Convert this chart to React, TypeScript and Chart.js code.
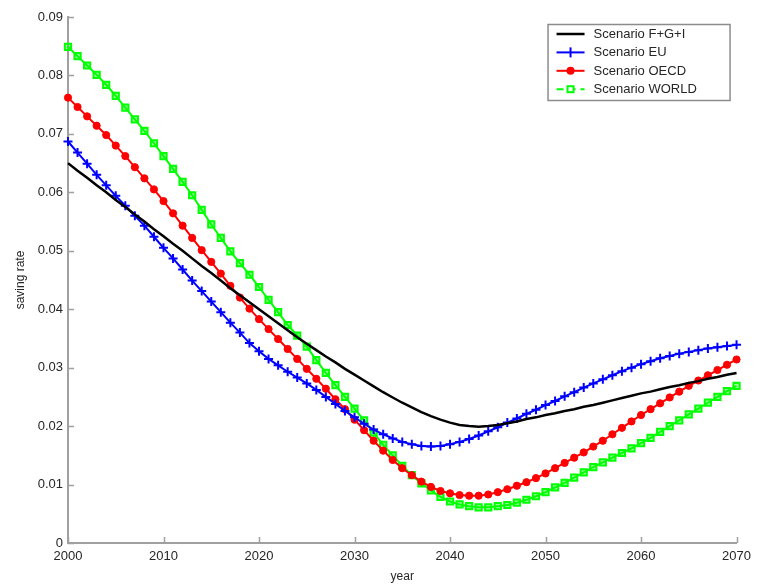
import React, { useEffect, useRef } from "react";
import { Chart, registerables } from "chart.js";

Chart.register(...registerables);

const YEARS = [
  2000, 2001, 2002, 2003, 2004, 2005, 2006, 2007, 2008, 2009,
  2010, 2011, 2012, 2013, 2014, 2015, 2016, 2017, 2018, 2019,
  2020, 2021, 2022, 2023, 2024, 2025, 2026, 2027, 2028, 2029,
  2030, 2031, 2032, 2033, 2034, 2035, 2036, 2037, 2038, 2039,
  2040, 2041, 2042, 2043, 2044, 2045, 2046, 2047, 2048, 2049,
  2050, 2051, 2052, 2053, 2054, 2055, 2056, 2057, 2058, 2059,
  2060, 2061, 2062, 2063, 2064, 2065, 2066, 2067, 2068, 2069,
  2070,
];

const FGI = [
  0.0650, 0.0637, 0.0625, 0.0612, 0.0600, 0.0587, 0.0575, 0.0562, 0.0550, 0.0537,
  0.0525, 0.0512, 0.0500, 0.0487, 0.0474, 0.0462, 0.0449, 0.0436, 0.0424, 0.0412,
  0.0400, 0.0388, 0.0376, 0.0364, 0.0352, 0.0341, 0.0330, 0.0319, 0.0309, 0.0298,
  0.0288, 0.0278, 0.0268, 0.0258, 0.0249, 0.0240, 0.0232, 0.0224, 0.0217, 0.0211,
  0.0206, 0.0202, 0.0200, 0.0199, 0.0200, 0.0202, 0.0205, 0.0208, 0.0212, 0.0215,
  0.0219, 0.0222, 0.0226, 0.0229, 0.0233, 0.0236, 0.0240, 0.0244, 0.0248, 0.0252,
  0.0256, 0.0259, 0.0263, 0.0267, 0.0270, 0.0274, 0.0277, 0.0281, 0.0284, 0.0288,
  0.0291,
];

const EU = [
  0.0687, 0.0668, 0.0649, 0.0630, 0.0612, 0.0594, 0.0577, 0.0560, 0.0543, 0.0524,
  0.0505, 0.0487, 0.0468, 0.0449, 0.0431, 0.0413, 0.0395, 0.0377, 0.0360, 0.0342,
  0.0328, 0.0315, 0.0304, 0.0293, 0.0283, 0.0273, 0.0262, 0.0250, 0.0238, 0.0226,
  0.0215, 0.0204, 0.0194, 0.0186, 0.0179, 0.0173, 0.0169, 0.0166, 0.0165, 0.0166,
  0.0169, 0.0173, 0.0178, 0.0184, 0.0191, 0.0198, 0.0206, 0.0213, 0.0221, 0.0228,
  0.0236, 0.0243, 0.0251, 0.0258, 0.0266, 0.0273, 0.0280, 0.0287, 0.0294, 0.0300,
  0.0306, 0.0311, 0.0316, 0.0320, 0.0324, 0.0327, 0.0330, 0.0333, 0.0335, 0.0337,
  0.0339,
];

const OECD = [
  0.0762, 0.0746, 0.0730, 0.0714, 0.0698, 0.0680, 0.0662, 0.0643, 0.0624, 0.0605,
  0.0585, 0.0564, 0.0543, 0.0522, 0.0501, 0.0481, 0.0461, 0.0440, 0.0420, 0.0401,
  0.0383, 0.0366, 0.0349, 0.0332, 0.0315, 0.0298, 0.0281, 0.0264, 0.0246, 0.0229,
  0.0211, 0.0193, 0.0175, 0.0158, 0.0142, 0.0128, 0.0116, 0.0105, 0.0096, 0.0089,
  0.0085, 0.0082, 0.0081, 0.0081, 0.0083, 0.0087, 0.0092, 0.0098, 0.0104, 0.0111,
  0.0119, 0.0128, 0.0137, 0.0146, 0.0155, 0.0165, 0.0175, 0.0186, 0.0197, 0.0208,
  0.0219, 0.0229, 0.0239, 0.0249, 0.0259, 0.0269, 0.0278, 0.0287, 0.0296, 0.0305,
  0.0314,
];

const WORLD = [
  0.0849, 0.0833, 0.0817, 0.0801, 0.0784, 0.0765, 0.0745, 0.0725, 0.0705, 0.0684,
  0.0662, 0.0640, 0.0618, 0.0595, 0.0570, 0.0545, 0.0522, 0.0499, 0.0479, 0.0459,
  0.0438, 0.0416, 0.0395, 0.0373, 0.0355, 0.0336, 0.0313, 0.0291, 0.0270, 0.0250,
  0.0230, 0.0210, 0.0189, 0.0168, 0.0150, 0.0132, 0.0116, 0.0102, 0.0090, 0.0079,
  0.0071, 0.0066, 0.0063, 0.0061, 0.0061, 0.0063, 0.0065, 0.0069, 0.0074, 0.0080,
  0.0087, 0.0095, 0.0103, 0.0112, 0.0121, 0.0130, 0.0138, 0.0146, 0.0154, 0.0162,
  0.0171, 0.0180, 0.0190, 0.0200, 0.0210, 0.0220, 0.0230, 0.0240, 0.0250, 0.0260,
  0.0269,
];

const SERIES_LABELS = ["Scenario F+G+I", "Scenario EU", "Scenario OECD", "Scenario WORLD"];
const X_TICKS = [2000, 2010, 2020, 2030, 2040, 2050, 2060, 2070];
const Y_TICKS = [0, 0.01, 0.02, 0.03, 0.04, 0.05, 0.06, 0.07, 0.08, 0.09];

const FONT = '"Liberation Sans", Arial, Helvetica, sans-serif';
const AXIS_COLOR = "#a0a0a0";
const TEXT_COLOR = "#262626";

const toPoints = (vals: number[]) => YEARS.map((yr, i) => ({ x: yr, y: vals[i] }));

const matlabPlugin = {
  id: "matlabStyle",
  afterDraw(chart: any) {
    const { ctx, chartArea } = chart;
    const xs = chart.scales.x;
    const ys = chart.scales.y;
    ctx.save();
    // inward ticks
    ctx.strokeStyle = AXIS_COLOR;
    ctx.lineWidth = 1.5;
    ctx.beginPath();
    X_TICKS.forEach((t) => {
      const px = Math.round(xs.getPixelForValue(t)) + 0.5;
      ctx.moveTo(px, chartArea.bottom);
      ctx.lineTo(px, chartArea.bottom - 6);
    });
    Y_TICKS.forEach((t) => {
      const py = Math.round(ys.getPixelForValue(t)) + 0.5;
      ctx.moveTo(chartArea.left, py);
      ctx.lineTo(chartArea.left + 6, py);
    });
    ctx.stroke();

    // legend box
    const bx = chartArea.right - 189;
    const by = chartArea.top + 7;
    const bw = 182;
    const bh = 76;
    ctx.fillStyle = "#ffffff";
    ctx.fillRect(bx, by, bw, bh);
    ctx.strokeStyle = "#8c8c8c";
    ctx.lineWidth = 1.5;
    ctx.strokeRect(bx + 0.5, by + 0.5, bw, bh);

    ctx.font = `13px ${FONT}`;
    ctx.textBaseline = "middle";
    ctx.textAlign = "left";
    chart.data.datasets.forEach((ds: any, i: number) => {
      const cy = by + 10 + i * 18.4;
      const x0 = bx + 9;
      const x1 = bx + 37;
      const mx = (x0 + x1) / 2;
      ctx.strokeStyle = ds.borderColor;
      ctx.lineWidth = ds.borderWidth;
      ctx.setLineDash(i === 3 ? [7, 5] : []);
      ctx.beginPath();
      ctx.moveTo(x0, cy);
      ctx.lineTo(x1, cy);
      ctx.stroke();
      ctx.setLineDash([]);
      if (ds.pointStyle === "cross") {
        ctx.lineWidth = 2;
        ctx.beginPath();
        ctx.moveTo(mx, cy - 5);
        ctx.lineTo(mx, cy + 5);
        ctx.stroke();
      } else if (ds.pointStyle === "circle") {
        ctx.fillStyle = ds.pointBackgroundColor;
        ctx.beginPath();
        ctx.arc(mx, cy, 4, 0, Math.PI * 2);
        ctx.fill();
      } else if (ds.pointStyle === "rect") {
        ctx.fillStyle = "#ffffff";
        ctx.lineWidth = 2;
        ctx.fillRect(mx - 3, cy - 3, 6, 6);
        ctx.strokeRect(mx - 3, cy - 3, 6, 6);
      }
      ctx.fillStyle = TEXT_COLOR;
      ctx.fillText(ds.label, bx + 46, cy + 0.5);
    });
    ctx.restore();
  },
};

export default function App() {
  const canvasRef = useRef<HTMLCanvasElement | null>(null);

  useEffect(() => {
    if (!canvasRef.current) return;
    const chart = new Chart(canvasRef.current, {
      type: "line",
      data: {
        datasets: [
          {
            label: SERIES_LABELS[0],
            data: toPoints(FGI),
            borderColor: "#000000",
            borderWidth: 2.5,
            pointRadius: 0,
            pointStyle: "line",
            tension: 0,
            clip: false,
          },
          {
            label: SERIES_LABELS[1],
            data: toPoints(EU),
            borderColor: "#0000ff",
            borderWidth: 2,
            pointStyle: "cross",
            pointRadius: 4.5,
            pointBorderWidth: 2,
            pointBorderColor: "#0000ff",
            pointBackgroundColor: "#0000ff",
            tension: 0,
            clip: false,
          },
          {
            label: SERIES_LABELS[2],
            data: toPoints(OECD),
            borderColor: "#ff0000",
            borderWidth: 2,
            pointStyle: "circle",
            pointRadius: 3.6,
            pointBorderWidth: 1,
            pointBorderColor: "#ff0000",
            pointBackgroundColor: "#ff0000",
            tension: 0,
            clip: false,
          },
          {
            label: SERIES_LABELS[3],
            data: toPoints(WORLD),
            borderColor: "#00ff00",
            borderWidth: 2,
            pointStyle: "rect",
            pointRadius: 4.4,
            pointBorderWidth: 2,
            pointBorderColor: "#00ff00",
            pointBackgroundColor: "rgba(0,255,0,0.4)",
            tension: 0,
            clip: false,
          },
        ],
      },
      options: {
        animation: false,
        responsive: true,
        maintainAspectRatio: false,
        devicePixelRatio: 1,
        layout: { padding: { top: 17, right: 20, left: 0, bottom: 0 } },
        plugins: {
          legend: { display: false },
          tooltip: { enabled: false },
        },
        scales: {
          x: {
            type: "linear",
            min: 2000,
            max: 2070,
            afterBuildTicks: (scale: any) => {
              scale.ticks = X_TICKS.map((v) => ({ value: v }));
            },
            afterFit: (scale: any) => {
              scale.height = 43;
            },
            grid: { display: false, drawTicks: false },
            border: { display: true, color: AXIS_COLOR, width: 2 },
            ticks: {
              color: TEXT_COLOR,
              font: { family: FONT, size: 13 },
              padding: 6,
              maxRotation: 0,
              callback: (v: any) => String(v),
            },
            title: {
              display: true,
              text: "year",
              color: TEXT_COLOR,
              font: { family: FONT, size: 12 },
              padding: { top: 0, bottom: 2 },
            },
          },
          y: {
            type: "linear",
            min: 0,
            max: 0.09,
            afterBuildTicks: (scale: any) => {
              scale.ticks = Y_TICKS.map((v) => ({ value: v }));
            },
            afterFit: (scale: any) => {
              scale.width = 68;
            },
            grid: { display: false, drawTicks: false },
            border: { display: true, color: AXIS_COLOR, width: 2 },
            ticks: {
              color: TEXT_COLOR,
              font: { family: FONT, size: 13 },
              padding: 5,
              callback: (v: any) => (Number(v) === 0 ? "0" : Number(v).toFixed(2)),
            },
            title: {
              display: true,
              text: "saving rate",
              color: TEXT_COLOR,
              font: { family: FONT, size: 12 },
              padding: { top: 13, bottom: 0 },
            },
          },
        },
      },
      plugins: [matlabPlugin],
    });
    return () => chart.destroy();
  }, []);

  return (
    <div style={{ position: "absolute", left: 0, top: 0, width: 757, height: 586, background: "#fff" }}>
      <canvas ref={canvasRef} />
    </div>
  );
}
